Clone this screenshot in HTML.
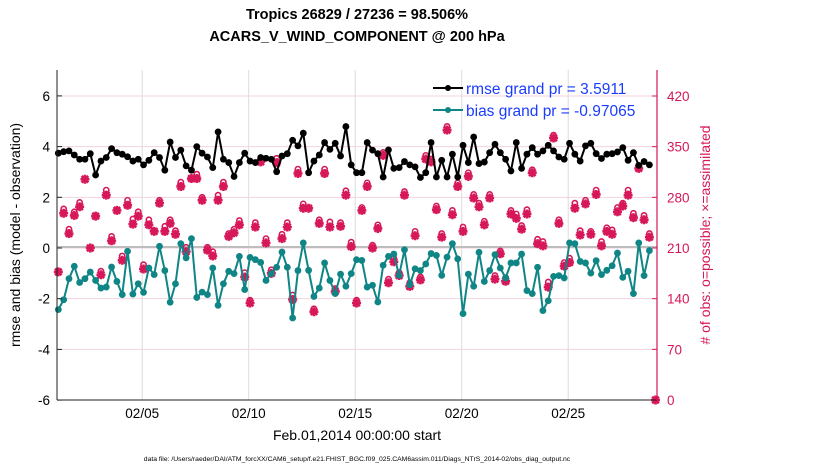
<!DOCTYPE html>
<html><head><meta charset="utf-8">
<style>
html,body{margin:0;padding:0;background:#fff;}
svg{display:block;font-family:"Liberation Sans",Arial,sans-serif;}
</style></head>
<body>
<svg id="chart" width="830" height="470" viewBox="0 0 830 470" xmlns="http://www.w3.org/2000/svg">
<text x="357" y="19" text-anchor="middle" font-size="14.5" font-weight="bold">Tropics 26829 / 27236 = 98.506%</text>
<text x="357" y="41" text-anchor="middle" font-size="14.5" font-weight="bold">ACARS_V_WIND_COMPONENT @ 200 hPa</text>
<g id="grid"></g>
<g id="marks"></g>
<g id="axes"></g>
<text transform="translate(20,235) rotate(-90)" text-anchor="middle" font-size="14">rmse and bias (model - observation)</text>
<text transform="translate(710,235) rotate(-90)" text-anchor="middle" font-size="14" fill="#d6175a"># of obs: o=possible; ×=assimilated</text>
<text x="357" y="440" text-anchor="middle" font-size="14">Feb.01,2014 00:00:00 start</text>
<text x="357" y="461" text-anchor="middle" font-size="6.8">data file: /Users/raeder/DAI/ATM_forcXX/CAM6_setup/f.e21.FHIST_BGC.f09_025.CAM6assim.011/Diags_NTrS_2014-02/obs_diag_output.nc</text>
<g>
<line x1="433" y1="88" x2="463" y2="88" stroke="#000" stroke-width="2"/>
<circle cx="448" cy="88" r="3" fill="#000"/>
<text x="466" y="94" font-size="15.5" fill="#1a3cff">rmse grand pr = 3.5911</text>
<line x1="433" y1="110" x2="463" y2="110" stroke="#0f8585" stroke-width="2"/>
<circle cx="448" cy="110" r="3" fill="#0f8585"/>
<text x="466" y="116" font-size="15.5" fill="#1a3cff">bias grand pr = -0.97065</text>
</g>
</svg>
<script>
const dayOffsets = 0.0625;
const rmse = [3.74,3.8,3.83,3.67,3.5,3.5,3.72,2.88,3.43,3.57,3.92,3.76,3.7,3.6,3.43,3.5,3.28,3.46,3.76,3.57,3.07,4.18,3.57,3.86,3.24,3.07,4.0,3.74,3.59,
3.17,4.58,3.5,3.37,2.82,3.37,3.74,3.43,3.37,3.57,3.54,3.5,3.01,3.63,3.72,4.25,4.03,4.53,2.97,3.43,3.67,4.16,3.89,4.13,3.63,4.79,3.28,2.97,
2.97,4.16,3.86,3.72,2.8,3.87,3.14,3.17,3.41,3.28,3.2,2.78,2.97,4.16,2.8,3.46,2.8,3.7,2.8,4.05,3.37,4.38,3.33,3.39,3.76,4.09,3.76,3.5,
3.04,4.16,3.14,3.7,3.96,3.7,3.83,4.05,3.83,3.59,3.5,4.13,3.7,3.43,4.03,4.13,3.72,3.53,3.7,3.72,3.79,3.96,3.46,3.76,3.26,3.41,3.28];
const bias = [-2.43,-2.04,-1.21,-0.72,-1.36,-1.21,-0.95,-1.28,-1.58,-1.54,-0.75,-1.32,-1.84,-0.13,-1.82,-1.41,-1.75,-0.79,-1.05,0.07,-0.89,-2.14,-1.41,0.17,-0.39,0.37,-1.95,-1.74,-1.84,
-0.79,-2.26,-1.41,-0.92,-1.01,-0.33,-1.64,-0.37,-0.46,-0.57,-1.28,-1.01,-0.76,-0.16,-0.76,-2.76,-0.89,0.2,-0.88,-1.91,-1.58,-0.59,-1.28,-1.8,-1.03,-1.51,-1.01,-0.46,
-0.49,-1.54,-1.47,-2.13,-0.68,-0.33,-0.24,-1.08,-0.07,-1.45,-0.82,-0.89,-0.63,-0.22,-0.29,-1.08,-0.36,0.17,-0.43,-2.59,-1.03,-1.51,-0.17,-1.32,-0.89,-0.26,-0.79,-1.18,
-0.59,-0.59,-0.24,-1.68,-1.8,-0.76,-2.47,-2.08,-1.12,-1.09,-1.18,0.2,0.17,-0.53,-0.59,-0.99,-0.5,-1.05,-0.88,-0.7,-0.2,-1.16,-0.92,-1.8,0.2,-1.09,-0.1];
const nUsed = [177,258,230,255,267,305,210,254,173,283,220,262,193,269,243,254,181,242,233,272,233,244,229,295,205,306,306,276,207,
199,276,295,226,231,242,170,134,239,329,217,175,328,223,239,139,313,265,265,122,244,313,239,150,240,283,212,134,
262,295,210,237,338,162,191,172,283,157,227,166,333,329,263,225,373,256,295,233,309,279,267,242,279,167,202,164,
257,251,236,257,314,216,213,156,362,244,185,190,265,228,271,229,284,213,233,229,260,268,283,252,320,249,225,0];
const nPoss = [177,264,236,260,273,305,210,254,178,290,226,262,199,276,250,260,187,249,233,276,240,249,234,301,211,306,312,280,211,
205,283,301,230,236,248,176,138,245,333,223,180,334,229,245,145,319,271,265,126,249,319,246,154,245,289,218,138,
266,300,214,242,342,167,196,176,288,162,233,170,338,333,268,230,378,262,300,239,314,284,272,247,284,172,206,169,
262,257,241,263,318,222,219,163,366,249,190,196,272,234,276,233,290,219,238,235,266,272,290,258,324,255,230,0];
const xTickLabels = ['02/05','02/10','02/15','02/20','02/25'];
const xTickDays = [4,9,14,19,24];
const yTicksLeft = [-6,-4,-2,0,2,4,6];
const yTicksRight = [0,70,140,210,280,350,420];

const X0=57, X1=657, Y0=70, Y1=400;
const xS = d => X0 + d*21.3;
const yL = v => 248 - v*25.35;
const yR = c => 400 - c*0.7238;
const NS='http://www.w3.org/2000/svg';
function mk(tag, attrs, parent){const e=document.createElementNS(NS,tag);for(const k in attrs)e.setAttribute(k,attrs[k]);parent.appendChild(e);return e;}
const grid=document.getElementById('grid'), marks=document.getElementById('marks'), axes=document.getElementById('axes');
const PINK='#d6175a', TEAL='#0f8585';

xTickDays.forEach((d,i)=>{
  const l=mk('line',{x1:xS(d),x2:xS(d),y1:Y0,y2:Y1,stroke:'#dcdcdc','stroke-width':1},grid);
  
  
  const t=mk('text',{x:xS(d),y:418,'text-anchor':'middle','font-size':13.5},axes);
  t.textContent=xTickLabels[i];
  
  
});
yTicksRight.forEach(c=>{
  const l=mk('line',{x1:X0,x2:X1,y1:yR(c),y2:yR(c),stroke:'#f3d2df','stroke-width':1},grid);
  
  
  const tk=mk('line',{x1:X1-5,x2:X1,y1:yR(c),y2:yR(c),stroke:PINK,'stroke-width':1},axes);
  
  
  const t=mk('text',{x:667,y:yR(c)+5,'font-size':13.5,fill:PINK},axes);
  t.textContent=c;
  
  
});
const zl=mk('line',{x1:X0,x2:X1,y1:yL(0)-1,y2:yL(0)-1,stroke:'#bdbdbd','stroke-width':2},grid);


yTicksLeft.forEach(v=>{
  const t=mk('text',{x:50,y:yL(v)+5,'text-anchor':'end','font-size':13.5},axes);
  t.textContent=v;
  
  
  const tk=mk('line',{x1:X0,x2:X0+5,y1:yL(v),y2:yL(v),stroke:'#222'},axes);
  
  
});
const la=mk('line',{x1:X0,x2:X0,y1:Y0,y2:Y1,stroke:'#222'},axes);


const ba=mk('line',{x1:X0,x2:X1,y1:Y1,y2:Y1,stroke:'#222'},axes);


const ra=mk('line',{x1:X1,x2:X1,y1:Y0,y2:Y1,stroke:PINK,'stroke-width':1.2},axes);



const dayOf = i => i*0.25 + dayOffsets;
const dayLast = i => (i===nUsed.length-1 && i>=rmse.length) ? 28.1 : dayOf(i);

nUsed.forEach((c,i)=>{
  const x=xS(dayLast(i));
  const p=nPoss[i];
  const o=mk('circle',{cx:x,cy:yR(p),r:2.6,fill:'none',stroke:PINK,'stroke-width':1.6},marks);
  
  
  const y=yR(c);
  const s=mk('path',{d:`M${x-4.5},${y}H${x+4.5}M${x},${y-4.5}V${y+4.5}M${x-3.3},${y-3.3}L${x+3.3},${y+3.3}M${x-3.3},${y+3.3}L${x+3.3},${y-3.3}`,stroke:PINK,'stroke-width':2.6},marks);
  
  
});
function series(arr,color,name){
  const d=arr.map((v,i)=>(i?'L':'M')+xS(dayOf(i)).toFixed(1)+','+yL(v).toFixed(1)).join('');
  const p=mk('path',{d:d,fill:'none',stroke:color,'stroke-width':2},marks);
  
  
  arr.forEach((v,i)=>{
    const c=mk('circle',{cx:xS(dayOf(i)),cy:yL(v),r:3.4,fill:color},marks);
    
    
  });
}
series(bias,TEAL,'bias');
series(rmse,'#000','rmse');
</script>
</body></html>
